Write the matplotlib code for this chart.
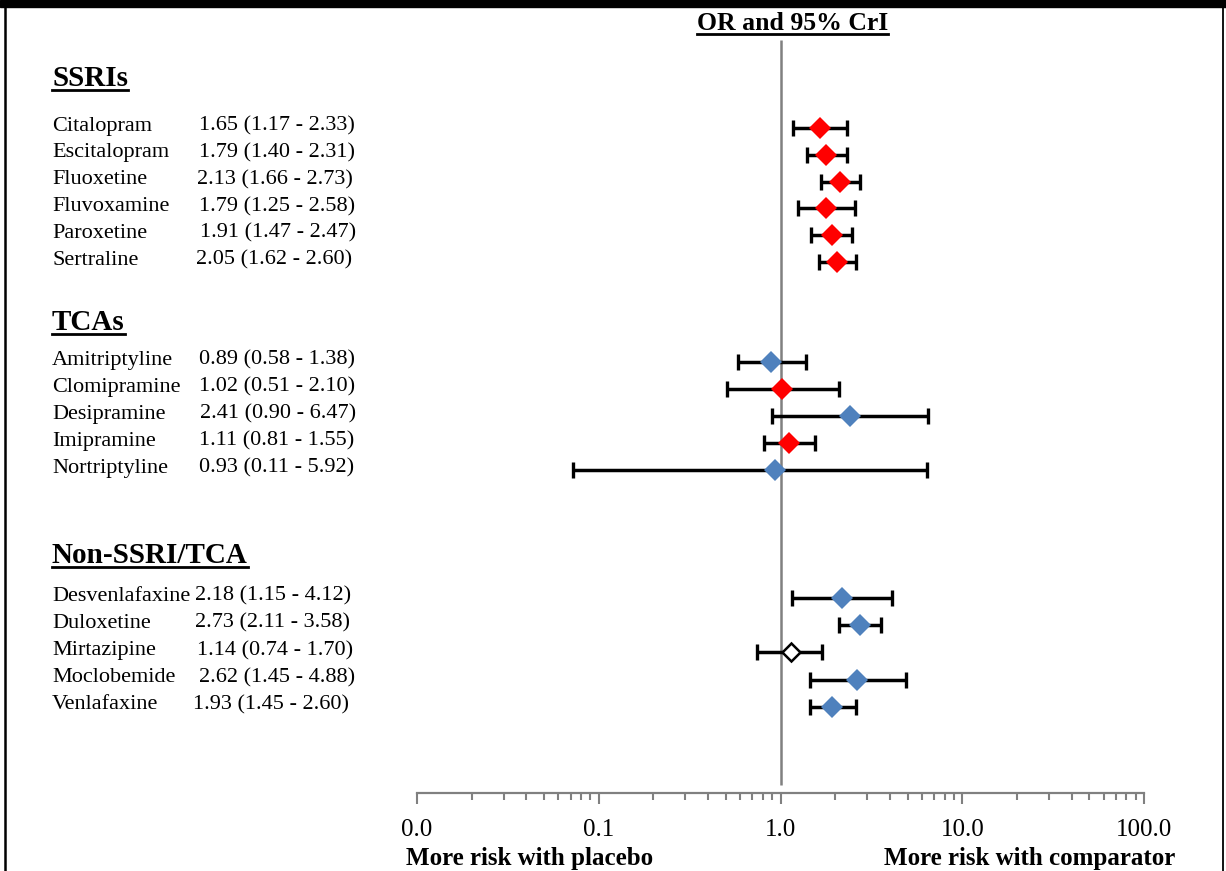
import numpy as np
import matplotlib.pyplot as plt
from matplotlib.patches import Rectangle
from matplotlib.ticker import FuncFormatter, LogLocator, NullFormatter

plt.rcParams['font.family'] = ['Liberation Serif', 'DejaVu Serif']

RED = '#FF0000'
BLUE = '#4F81BD'
OPEN = 'white'

# ------------------------
# Data (drawn marks, text as printed)
ssri_names = ['Citalopram', 'Escitalopram', 'Fluoxetine', 'Fluvoxamine', 'Paroxetine', 'Sertraline']
ssri_text = ['1.65 (1.17 - 2.33)', '1.79 (1.40 - 2.31)', '2.13 (1.66 - 2.73)',
             '1.79 (1.25 - 2.58)', '1.91 (1.47 - 2.47)', '2.05 (1.62 - 2.60)']
ssri_or = [1.65, 1.79, 2.13, 1.79, 1.91, 2.05]
ssri_lo = [1.17, 1.40, 1.66, 1.25, 1.47, 1.62]
ssri_hi = [2.33, 2.31, 2.73, 2.58, 2.47, 2.60]
ssri_col = [RED, RED, RED, RED, RED, RED]

tca_names = ['Amitriptyline', 'Clomipramine', 'Desipramine', 'Imipramine', 'Nortriptyline']
tca_text = ['0.89 (0.58 - 1.38)', '1.02 (0.51 - 2.10)', '2.41 (0.90 - 6.47)',
            '1.11 (0.81 - 1.55)', '0.93 (0.11 - 5.92)']
tca_or = [0.89, 1.02, 2.41, 1.11, 0.93]
tca_lo = [0.58, 0.51, 0.90, 0.81, 0.072]
tca_hi = [1.38, 2.10, 6.47, 1.55, 6.4]
tca_col = [BLUE, RED, BLUE, RED, BLUE]

non_names = ['Desvenlafaxine', 'Duloxetine', 'Mirtazipine', 'Moclobemide', 'Venlafaxine']
non_text = ['2.18 (1.15 - 4.12)', '2.73 (2.11 - 3.58)', '1.14 (0.74 - 1.70)',
            '2.62 (1.45 - 4.88)', '1.93 (1.45 - 2.60)']
non_or = [2.18, 2.73, 1.14, 2.62, 1.93]
non_lo = [1.15, 2.11, 0.74, 1.45, 1.45]
non_hi = [4.12, 3.58, 1.70, 4.88, 2.60]
non_col = [BLUE, BLUE, OPEN, BLUE, BLUE]

groups = [
    ('SSRIs', ssri_names, ssri_text, ssri_or, ssri_lo, ssri_hi, ssri_col),
    ('TCAs', tca_names, tca_text, tca_or, tca_lo, tca_hi, tca_col),
    ('Non-SSRI/TCA', non_names, non_text, non_or, non_lo, non_hi, non_col),
]

# ------------------------
# Layout (pixels)
W, H = 1226, 871
# header baseline, first row centre, row step, value column x
group_layout = [
    (86, 126, 26.8, [199, 199, 197, 199, 200, 196]),
    (330, 360, 27.0, [199, 199, 200, 199, 199]),
    (563, 596, 27.2, [195, 195, 197, 199, 193]),
]
marker_shift = 2
x0, x1, ytop, ybot = 417, 1144, 40, 793

fig = plt.figure(figsize=(W / 100, H / 100), dpi=100)
bg = fig.add_axes([0, 0, 1, 1])
bg.set_xlim(0, W)
bg.set_ylim(H, 0)
bg.axis('off')

# frame pieces
bg.add_patch(Rectangle((0, 0), W, 7, color='black'))
bg.plot([5, 5], [0, H], color='black', lw=1.8)
bg.plot([1223, 1223], [0, H], color='black', lw=1.3)

ax = fig.add_axes([x0 / W, 1 - ybot / H, (x1 - x0) / W, (ybot - ytop) / H])
ax.patch.set_alpha(0)
ax.set_xscale('log')
ax.set_xlim(0.01, 100)
ax.set_ylim(ybot, ytop)

ax.vlines(1.0, ytop, ybot - 8, color='#808080', lw=1.8, zorder=1)

headers = []
for (title, names, texts, ors, los, his, cols), (hy, y0, step, vx) in zip(groups, group_layout):
    headers.append((bg.text(52, hy, title, fontsize=21, fontweight='bold', va='baseline'), hy))
    ors = np.array(ors)
    los = np.array(los)
    his = np.array(his)
    ty = y0 + step * np.arange(len(names))
    my = ty + marker_shift
    for name, txt, yy, xx in zip(names, texts, ty, vx):
        bg.text(52, yy, name, fontsize=16, va='center')
        bg.text(xx, yy, txt, fontsize=16, va='center')
    ax.errorbar(ors, my, xerr=[ors - los, his - ors], fmt='none', ecolor='black',
                elinewidth=2.5, capsize=5.5, capthick=2.4, zorder=3)
    for o, yy, c in zip(ors, my, cols):
        if c == OPEN:
            ax.plot(o, yy, marker='D', ms=9, mfc='white', mec='black', mew=1.8, zorder=4)
        else:
            ax.plot(o, yy, marker='D', ms=11, mfc=c, mec=c, mew=0, zorder=4)

headers.append((bg.text(697, 30, 'OR and 95% CrI', fontsize=18.5, fontweight='bold',
                        va='baseline'), 30))

# axis styling
for s in ['top', 'left', 'right']:
    ax.spines[s].set_visible(False)
ax.spines['bottom'].set_color('#808080')
ax.spines['bottom'].set_linewidth(1.6)
ax.set_yticks([])
ax.xaxis.set_major_locator(LogLocator(base=10, numticks=10))
ax.xaxis.set_minor_locator(LogLocator(base=10, subs=np.arange(2, 10), numticks=20))
ax.xaxis.set_major_formatter(FuncFormatter(lambda v, p: f"{v:.1f}"))
ax.xaxis.set_minor_formatter(NullFormatter())
ax.tick_params(axis='x', which='major', length=8, width=1.5, color='#808080',
               labelsize=18, pad=11)
ax.tick_params(axis='x', which='minor', length=5, width=1.5, color='#808080')

bg.text(530, 858, 'More risk with placebo', fontsize=18, fontweight='bold',
        ha='center', va='center')
bg.text(884, 858, 'More risk with comparator', fontsize=18, fontweight='bold',
        ha='left', va='center')

# underline headers
fig.canvas.draw()
renderer = fig.canvas.get_renderer()
inv = bg.transData.inverted()
for t, base in headers:
    bb = t.get_window_extent(renderer)
    (xa, _), (xb, _) = inv.transform([[bb.x0, bb.y0], [bb.x1, bb.y1]])
    bg.plot([xa, xb], [base + 4, base + 4], color='black', lw=2)

plt.savefig('out.png', dpi=100)
